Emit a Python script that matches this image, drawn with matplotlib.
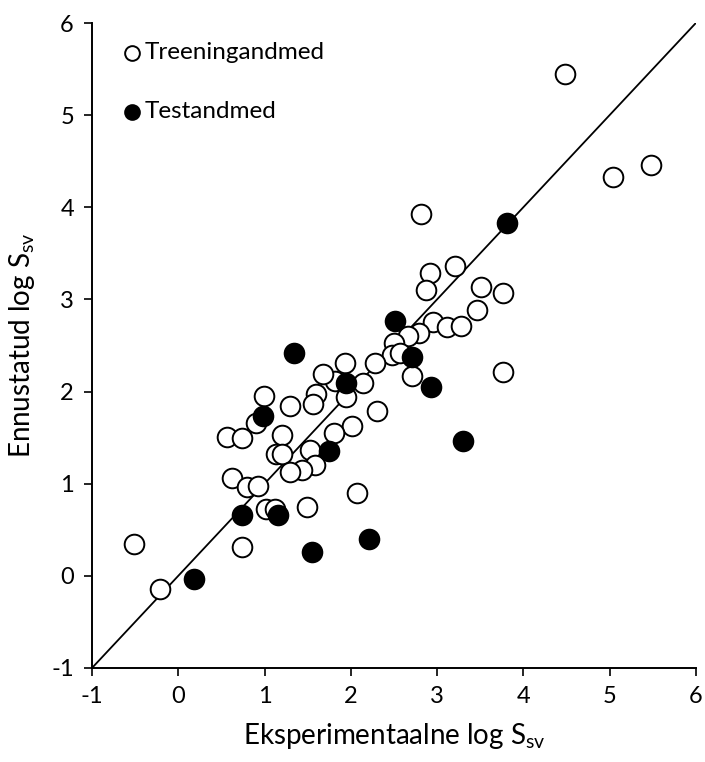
import matplotlib.pyplot as plt
import numpy as np

plt.rcParams['font.family'] = ['Lato', 'DejaVu Sans']
plt.rcParams['axes.unicode_minus'] = False

# training data (open circles)
train_x = [4.48, 5.04, 5.48, 2.81, 3.21, 2.92, 2.87, 3.51, 3.77, 3.46, 2.95, 3.11, 3.28,
           2.79, 2.66, 2.50, 2.48, 2.57, 2.71, 3.77, 2.28, 1.93, 2.14, 1.82, 1.68, 1.60,
           1.56, 1.94, 2.30, 2.01, 1.80, 1.53, 1.58, 1.43, 2.07, 1.49, 0.99, 0.90, 0.56,
           0.74, 1.29, 1.20, 1.13, 1.20, 1.29, 0.62, 0.80, 0.93, 1.02, 1.12, -0.51, 0.74, -0.21]
train_y = [5.45, 4.33, 4.46, 3.93, 3.36, 3.29, 3.10, 3.14, 3.07, 2.88, 2.76, 2.70, 2.71,
           2.64, 2.60, 2.53, 2.40, 2.42, 2.17, 2.21, 2.31, 2.31, 2.09, 2.12, 2.19, 1.97,
           1.87, 1.94, 1.79, 1.63, 1.55, 1.37, 1.20, 1.15, 0.90, 0.75, 1.95, 1.66, 1.51,
           1.50, 1.84, 1.53, 1.32, 1.32, 1.13, 1.06, 0.96, 0.97, 0.73, 0.73, 0.35, 0.31, -0.14]

# test data (filled circles)
test_x = [3.81, 2.51, 2.71, 2.93, 3.30, 1.94, 1.75, 1.55, 2.21, 1.34, 0.98, 0.74, 1.16, 0.18]
test_y = [3.83, 2.77, 2.37, 2.05, 1.46, 2.09, 1.36, 0.26, 0.40, 2.42, 1.74, 0.66, 0.66, -0.03]

line_xy = [-1, 6]
ticks = np.arange(-1, 7)

fig = plt.figure(figsize=(7.05, 7.62), dpi=100)
ax = fig.add_axes([0.1305, 0.1234, 0.8565, 0.8464])

ax.plot(line_xy, line_xy, color='black', lw=1.3, zorder=1)
ax.scatter(train_x, train_y, s=200, facecolors='white', edgecolors='black',
           linewidths=1.4, label='Treeningandmed', zorder=2)
ax.scatter(test_x, test_y, s=200, facecolors='black', edgecolors='black',
           linewidths=1.4, label='Testandmed', zorder=3)

ax.set_xlim(-1, 6)
ax.set_ylim(-1, 6)
ax.set_xticks(ticks)
ax.set_yticks(ticks)
ax.spines['top'].set_visible(False)
ax.spines['right'].set_visible(False)
for s in ['left', 'bottom']:
    ax.spines[s].set_linewidth(1.4)
ax.tick_params(direction='out', length=6, width=1.2, labelsize=17, pad=7)

ax.set_xlabel(r'Eksperimentaalne log S$_{\mathregular{sv}}$', fontsize=20, labelpad=10)
ax.set_ylabel(r'Ennustatud log S$_{\mathregular{sv}}$', fontsize=20, labelpad=10)

leg = ax.legend(loc='upper left', bbox_to_anchor=(0.03, 0.985), frameon=False,
                fontsize=17.5, markerscale=0.75, handletextpad=0.0, labelspacing=1.55,
                handlelength=1.0, borderaxespad=0)

fig.savefig('out.png', dpi=100)
